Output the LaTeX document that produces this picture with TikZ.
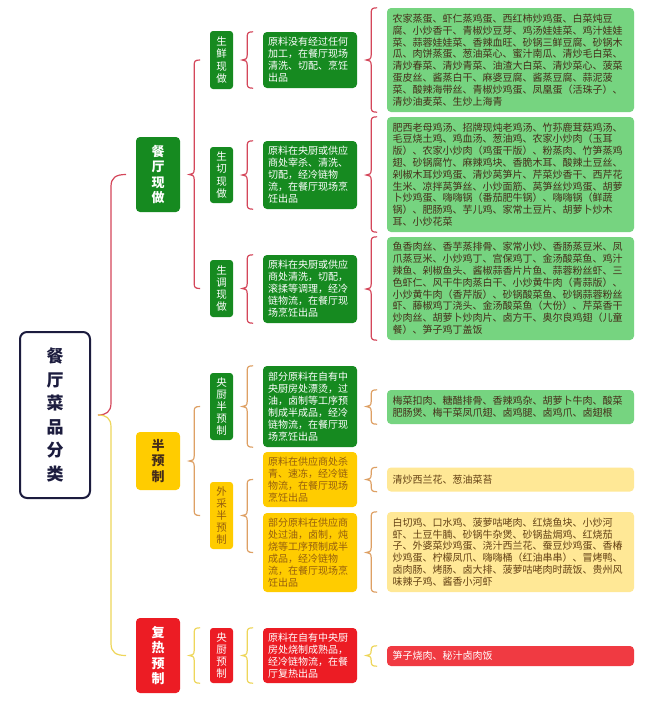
\documentclass[tikz,border=0pt]{standalone}
\usepackage{fontspec}
\setmainfont{Noto Sans CJK SC}
\usetikzlibrary{calc}
\definecolor{dg}{RGB}{22,138,32}
\definecolor{yl}{RGB}{255,204,0}
\definecolor{rd}{RGB}{236,28,36}
\definecolor{lg}{RGB}{118,212,128}
\definecolor{ly}{RGB}{255,232,150}
\definecolor{lr}{RGB}{240,58,66}
\definecolor{navy}{RGB}{28,28,62}
\definecolor{brR}{RGB}{212,70,90}
\definecolor{brO}{RGB}{222,160,100}
\definecolor{brY}{RGB}{238,214,90}
\definecolor{txtD}{RGB}{70,45,25}
\definecolor{txtY}{RGB}{150,95,15}
\definecolor{txtYD}{RGB}{100,65,20}
\newcommand\mybr[4]{%
  \draw[#1, line width=1.2pt] let \p1=($(#2.east)+(9,0)$), \p2=(#3), \p3=(#4) in
  (\x1+11pt,\y2) .. controls (\x1+6pt,\y2) and (\x1+5pt,\y2-1pt) .. (\x1+5pt,\y2-5pt)
  -- (\x1+5pt,\y1+5pt) .. controls (\x1+5pt,\y1+1pt) and (\x1+3pt,\y1) .. (\x1,\y1)
  .. controls (\x1+3pt,\y1) and (\x1+5pt,\y1-1pt) .. (\x1+5pt,\y1-5pt)
  -- (\x1+5pt,\y3+5pt) .. controls (\x1+5pt,\y3+1pt) and (\x1+6pt,\y3) .. (\x1+11pt,\y3);
}
\tikzset{
  rootbox/.style={draw=navy, line width=2pt, rounded corners=7pt, fill=white, text=navy,
    minimum width=70pt, minimum height=166pt, inner sep=0pt, align=center,
    font=\bfseries\fontsize{17}{23.5}\selectfont},
  lone/.style={rounded corners=4pt, minimum width=44pt, inner sep=0pt, align=center,
    font=\bfseries\fontsize{13}{15.5}\selectfont},
  ltwo/.style={rounded corners=3pt, minimum width=23pt, inner sep=0pt, align=center,
    font=\fontsize{10.5}{12.2}\selectfont},
  desc/.style={rounded corners=4pt, minimum width=94pt, text width=84pt, inner sep=0pt,
    align=left, font=\fontsize{10}{12}\selectfont},
  item/.style={rounded corners=4pt, minimum width=247pt, text width=236pt, inner sep=0pt,
    align=left, font=\fontsize{10}{11.8}\selectfont},
}
\begin{document}
\begin{tikzpicture}[x=1pt,y=-1pt]
\useasboundingbox[fill=white] (0,0) rectangle (660,707);
% root
\node[rootbox] (R) at (55,415) {餐\\厅\\菜\\品\\分\\类};
% level 1
\node[lone, fill=dg, text=white, minimum height=75pt] (A) at (158,174.5) {餐\\厅\\现\\做};
\node[lone, fill=yl, text=txtD, minimum height=58pt] (B) at (158,461) {半\\预\\制};
\node[lone, fill=rd, text=white, minimum height=75pt] (C) at (158,655.5) {复\\热\\预\\制};
% level 2
\node[ltwo, fill=dg, text=white, minimum height=58pt] (A1) at (221.5,60) {生\\鲜\\现\\做};
\node[ltwo, fill=dg, text=white, minimum height=56pt] (A2) at (221.5,175) {生\\切\\现\\做};
\node[ltwo, fill=dg, text=white, minimum height=57pt] (A3) at (221.5,288.5) {生\\调\\现\\做};
\node[ltwo, fill=dg, text=white, minimum height=67pt] (B1) at (221.5,406.5) {央\\厨\\半\\预\\制};
\node[ltwo, fill=yl, text=txtY, minimum height=67pt] (B2) at (221.5,515.5) {外\\采\\半\\预\\制};
\node[ltwo, fill=rd, text=white, minimum height=55pt] (C1) at (221.5,655.5) {央\\厨\\预\\制};
% level 3 descriptions
\node[desc, fill=dg, text=white, minimum height=56pt] (A1d) at (310,60)
  {原料没有经过任何\\加工，在餐厅现场\\清洗、切配、烹饪\\出品};
\node[desc, fill=dg, text=white, minimum height=68pt] (A2d) at (310,175)
  {原料在央厨或供应\\商处宰杀、清洗、\\切配，经冷链物\\流，在餐厅现场烹\\饪出品};
\node[desc, fill=dg, text=white, minimum height=68pt] (A3d) at (310,289)
  {原料在央厨或供应\\商处清洗，切配，\\滚揉等调理，经冷\\链物流，在餐厅现\\场烹饪出品};
\node[desc, fill=dg, text=white, minimum height=81pt] (B1d) at (310,406.5)
  {部分原料在自有中\\央厨房处漂烫，过\\油，卤制等工序预\\制成半成品，经冷\\链物流，在餐厅现\\场烹饪出品};
\node[desc, fill=yl, text=txtY, minimum height=55pt] (B2a) at (310,479.5)
  {原料在供应商处杀\\青、速冻，经冷链\\物流，在餐厅现场\\烹饪出品};
\node[desc, fill=yl, text=txtY, minimum height=79pt] (B2b) at (310,552.5)
  {部分原料在供应商\\处过油，卤制，炖\\烧等工序预制成半\\成品，经冷链物\\流，在餐厅现场烹\\饪出品};
\node[desc, fill=rd, text=white, minimum height=55pt] (C1d) at (310,655.5)
  {原料在自有中央厨\\房处烧制成熟品，\\经冷链物流，在餐\\厅复热出品};
% items
\node[item, fill=lg, text=txtD, minimum height=104pt] (I1) at (510.5,60)
  {农家蒸蛋、虾仁蒸鸡蛋、西红柿炒鸡蛋、白菜炖豆\\腐、小炒香干、青椒炒豆芽、鸡汤娃娃菜、鸡汁娃娃\\菜、蒜蓉娃娃菜、香辣血旺、砂锅三鲜豆腐、砂锅木\\瓜、肉饼蒸蛋、葱油菜心、蜜汁南瓜、清炒毛白菜、\\清炒春菜、清炒青菜、油渣大白菜、清炒菜心、菠菜\\蛋皮丝、酱蒸白干、麻婆豆腐、酱蒸豆腐、蒜泥菠\\菜、酸辣海带丝、青椒炒鸡蛋、凤凰蛋（活珠子）、\\清炒油麦菜、生炒上海青};
\node[item, fill=lg, text=txtD, minimum height=115pt] (I2) at (510.5,174.5)
  {肥西老母鸡汤、招牌现炖老鸡汤、竹荪鹿茸菇鸡汤、\\毛豆烧土鸡、鸡血汤、葱油鸡、农家小炒肉（玉耳\\版）、农家小炒肉（鸡蛋干版）、粉蒸肉、竹笋蒸鸡\\翅、砂锅腐竹、麻辣鸡块、香脆木耳、酸辣土豆丝、\\剁椒木耳炒鸡蛋、清炒莴笋片、芹菜炒香干、西芹花\\生米、凉拌莴笋丝、小炒面筋、莴笋丝炒鸡蛋、胡萝\\卜炒鸡蛋、嗨嗨锅（番茄肥牛锅）、嗨嗨锅（鲜蔬\\锅）、肥肠鸡、芋儿鸡、家常土豆片、胡萝卜炒木\\耳、小炒花菜};
\node[item, fill=lg, text=txtD, minimum height=103pt] (I3) at (510.5,288.5)
  {鱼香肉丝、香芋蒸排骨、家常小炒、香肠蒸豆米、凤\\爪蒸豆米、小炒鸡丁、宫保鸡丁、金汤酸菜鱼、鸡汁\\辣鱼、剁椒鱼头、酱椒蒜香片片鱼、蒜蓉粉丝虾、三\\色虾仁、风干牛肉蒸白干、小炒黄牛肉（青蒜版）、\\小炒黄牛肉（香芹版）、砂锅酸菜鱼、砂锅蒜蓉粉丝\\虾、藤椒鸡丁浇头、金汤酸菜鱼（大份）、芹菜香干\\炒肉丝、胡萝卜炒肉片、卤方干、奥尔良鸡翅（儿童\\餐）、笋子鸡丁盖饭};
\node[item, fill=lg, text=txtD, minimum height=34pt] (I4) at (510.5,407)
  {梅菜扣肉、糖醋排骨、香辣鸡杂、胡萝卜牛肉、酸菜\\肥肠煲、梅干菜凤爪翅、卤鸡腿、卤鸡爪、卤翅根};
\node[item, fill=ly, text=txtYD, minimum height=24pt] (I5) at (510.5,479.5)
  {清炒西兰花、葱油菜苔};
\node[item, fill=ly, text=txtYD, minimum height=80pt] (I6) at (510.5,552)
  {白切鸡、口水鸡、菠萝咕咾肉、红烧鱼块、小炒河\\虾、土豆牛腩、砂锅牛杂煲、砂锅盐焗鸡、红烧茄\\子、外婆菜炒鸡蛋、浇汁西兰花、蚕豆炒鸡蛋、香椿\\炒鸡蛋、柠檬凤爪、嗨嗨桶（红油串串）、冒烤鸭、\\卤肉肠、烤肠、卤大排、菠萝咕咾肉时蔬饭、贵州风\\味辣子鸡、酱香小河虾};
\node[item, fill=lr, text=white, minimum height=20pt] (I7) at (510.5,656)
  {笋子烧肉、秘汁卤肉饭};
% root brace
\draw[brR, line width=1.2pt] let \p1=($(R.east)+(7,0)$), \p2=(A.west) in
  (\x1,\y1) .. controls (\x1+8pt,\y1) and (\x1+13pt,\y1+3pt) .. (\x1+13pt,\y1+12pt)
  -- (\x1+13pt,\y2-12pt) .. controls (\x1+13pt,\y2-3pt) and (\x1+18pt,\y2) .. (\x1+28pt,\y2);
\draw[brY, line width=1.2pt] let \p1=($(R.east)+(7,0)$), \p2=(C.west) in
  (\x1,\y1) .. controls (\x1+8pt,\y1) and (\x1+13pt,\y1-3pt) .. (\x1+13pt,\y1-12pt)
  -- (\x1+13pt,\y2+12pt) .. controls (\x1+13pt,\y2+3pt) and (\x1+18pt,\y2) .. (\x1+28pt,\y2);
% level braces
\mybr{brR}{A}{A1.west}{A3.west}
\mybr{brR}{A1}{A1d.north}{A1d.south}
\mybr{brR}{A2}{A2d.north}{A2d.south}
\mybr{brR}{A3}{A3d.north}{A3d.south}
\mybr{brR}{A1d}{I1.north}{I1.south}
\mybr{brR}{A2d}{I2.north}{I2.south}
\mybr{brR}{A3d}{I3.north}{I3.south}
\mybr{brO}{B}{B1.west}{B2.west}
\mybr{brO}{B1}{B1d.north}{B1d.south}
\mybr{brO}{B2}{B2a.west}{B2b.west}
\mybr{brO}{B1d}{I4.north}{I4.south}
\mybr{brO}{B2a}{I5.north}{I5.south}
\mybr{brO}{B2b}{I6.north}{I6.south}
\mybr{brY}{C}{C1.north}{C1.south}
\mybr{brY}{C1}{C1d.north}{C1d.south}
\mybr{brY}{C1d}{I7.north}{I7.south}
\end{tikzpicture}
\end{document}
